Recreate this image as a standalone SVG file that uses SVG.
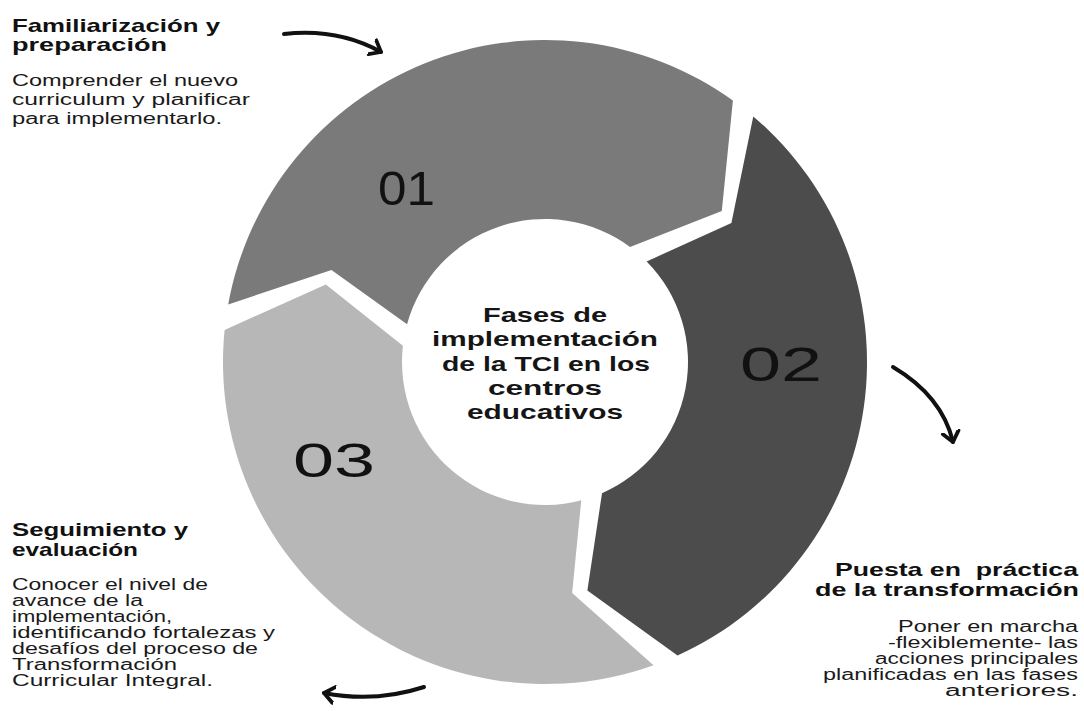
<svg xmlns="http://www.w3.org/2000/svg" width="1084" height="711" viewBox="0 0 1084 711">
  <style>
    .seg1 { fill: #7a7a7a; }
    .seg2 { fill: #4c4c4c; }
    .seg3 { fill: #b7b7b7; }
    .num { font-family: "Liberation Sans", Arial, sans-serif; font-size: 48px; fill: #111; }
    .ctr { font-family: "Liberation Sans", Arial, sans-serif; font-weight: bold; font-size: 21px; fill: #151515; }
    .hd { font-family: "Liberation Sans", Arial, sans-serif; font-weight: bold; font-size: 19px; fill: #111; }
    .bd { font-family: "Liberation Sans", Arial, sans-serif; font-size: 16px; fill: #1a1a1a; }
    .arr { fill: none; stroke: #111; stroke-width: 4; stroke-linecap: round; }
  </style>
  <defs>
    <marker id="ah" markerWidth="22" markerHeight="22" refX="11" refY="11" orient="auto" markerUnits="userSpaceOnUse">
      <path d="M1,3 L11,11 L1,19" fill="none" stroke="#111" stroke-width="3.8" stroke-linecap="round" stroke-linejoin="round"/>
    </marker>
  </defs>
  <rect width="1084" height="711" fill="#ffffff"/>

  <g id="segment-01">
    <path class="seg1" d="M228.19,304.43 A322,322 0 0 1 732.90,100.51 L721.80,211.00 L630.06,247.05 A143,143 0 0 0 407.07,324.27 L331.46,270.03 Z"/>
    <text class="num" x="378" y="205" textLength="57" lengthAdjust="spacingAndGlyphs">01</text>
  </g>
  <g id="segment-02">
    <path class="seg2" d="M753.27,116.42 A322,322 0 0 1 677.51,655.47 L587.37,590.61 L602.02,493.14 A143,143 0 0 0 646.64,261.42 L731.41,223.05 Z"/>
    <text class="num" x="740" y="381" textLength="82" lengthAdjust="spacingAndGlyphs">02</text>
  </g>
  <g id="segment-03">
    <path class="seg3" d="M653.55,665.15 A322,322 0 0 1 224.59,330.02 L325.84,284.39 L402.92,345.81 A143,143 0 0 0 581.29,500.32 L572.13,592.91 Z"/>
    <text class="num" x="293" y="477" textLength="82" lengthAdjust="spacingAndGlyphs">03</text>
  </g>

  <g id="center">
    <text class="ctr" x="483" y="322" textLength="124" lengthAdjust="spacingAndGlyphs">Fases de</text>
    <text class="ctr" x="432" y="346" textLength="226" lengthAdjust="spacingAndGlyphs">implementación</text>
    <text class="ctr" x="442" y="371" textLength="208" lengthAdjust="spacingAndGlyphs">de la TCI en los</text>
    <text class="ctr" x="488" y="395" textLength="114" lengthAdjust="spacingAndGlyphs">centros</text>
    <text class="ctr" x="467" y="419" textLength="156" lengthAdjust="spacingAndGlyphs">educativos</text>
  </g>

  <g id="label-01">
    <text class="hd" x="12" y="32" textLength="208" lengthAdjust="spacingAndGlyphs">Familiarización y</text>
    <text class="hd" x="12" y="51" textLength="155" lengthAdjust="spacingAndGlyphs">preparación</text>
    <text class="bd" x="12" y="86" textLength="226" lengthAdjust="spacingAndGlyphs">Comprender el nuevo</text>
    <text class="bd" x="12" y="105" textLength="238" lengthAdjust="spacingAndGlyphs">curriculum y planificar</text>
    <text class="bd" x="12" y="124" textLength="210" lengthAdjust="spacingAndGlyphs">para implementarlo.</text>
  </g>

  <g id="label-02">
    <text class="hd" x="835" y="576" textLength="243" lengthAdjust="spacingAndGlyphs" xml:space="preserve">Puesta en  práctica</text>
    <text class="hd" x="815" y="596" textLength="264" lengthAdjust="spacingAndGlyphs">de la transformación</text>
    <text class="bd" x="898" y="632" textLength="180" lengthAdjust="spacingAndGlyphs">Poner en marcha</text>
    <text class="bd" x="888" y="648" textLength="190" lengthAdjust="spacingAndGlyphs">-flexiblemente- las</text>
    <text class="bd" x="875" y="664" textLength="203" lengthAdjust="spacingAndGlyphs">acciones principales</text>
    <text class="bd" x="823" y="680" textLength="255" lengthAdjust="spacingAndGlyphs">planificadas en las fases</text>
    <text class="bd" x="945" y="696" textLength="133" lengthAdjust="spacingAndGlyphs">anteriores.</text>
  </g>

  <g id="label-03">
    <text class="hd" x="12" y="536" textLength="176" lengthAdjust="spacingAndGlyphs">Seguimiento y</text>
    <text class="hd" x="12" y="556" textLength="126" lengthAdjust="spacingAndGlyphs">evaluación</text>
    <text class="bd" x="12" y="590" textLength="196" lengthAdjust="spacingAndGlyphs">Conocer el nivel de</text>
    <text class="bd" x="12" y="606" textLength="131" lengthAdjust="spacingAndGlyphs">avance de la</text>
    <text class="bd" x="12" y="622" textLength="160" lengthAdjust="spacingAndGlyphs">implementación,</text>
    <text class="bd" x="12" y="638" textLength="263" lengthAdjust="spacingAndGlyphs">identificando fortalezas y</text>
    <text class="bd" x="12" y="654" textLength="246" lengthAdjust="spacingAndGlyphs">desafíos del proceso de</text>
    <text class="bd" x="12" y="670" textLength="165" lengthAdjust="spacingAndGlyphs">Transformación</text>
    <text class="bd" x="12" y="686" textLength="201" lengthAdjust="spacingAndGlyphs">Curricular Integral.</text>
  </g>

  <g id="connectors">
    <path class="arr" d="M284,34 Q338,28 381,52" marker-end="url(#ah)"/>
    <path class="arr" d="M893,367 Q942,396 953,442" marker-end="url(#ah)"/>
    <path class="arr" d="M424,687 Q375,703 324,693" marker-end="url(#ah)"/>
  </g>
</svg>
